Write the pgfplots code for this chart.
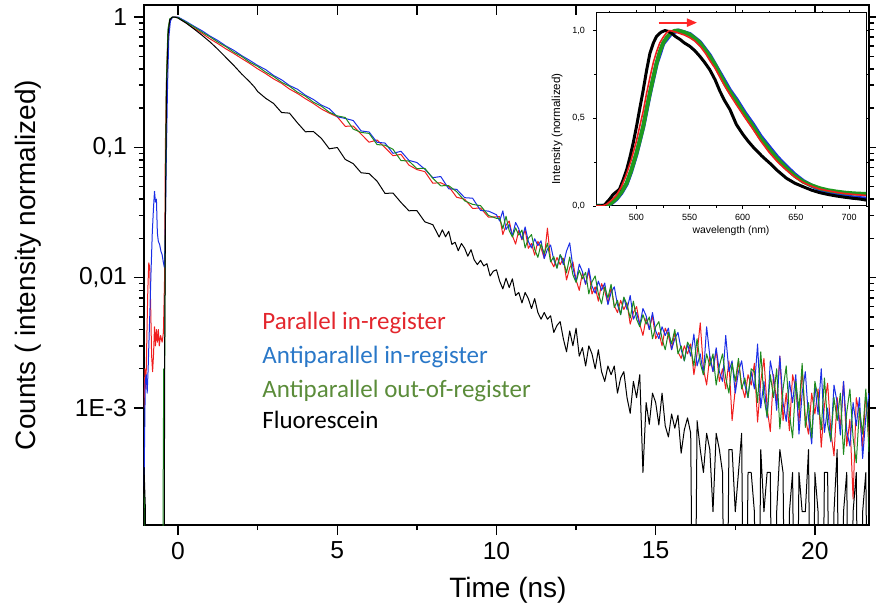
\documentclass[border=0pt]{standalone}
\usepackage{fontspec}
\setmainfont{Liberation Sans}
\newfontfamily\calibri{Carlito}
\usepackage{pgfplots}
\pgfplotsset{compat=1.18}
\usetikzlibrary{arrows.meta}
\definecolor{cred}{HTML}{F01E1E}
\definecolor{cblue}{HTML}{1A2EE6}
\definecolor{cgreen}{HTML}{1E8A1E}
\definecolor{lred}{HTML}{E3262D}
\definecolor{lblue}{HTML}{2A78C8}
\definecolor{lgreen}{HTML}{5B8C3A}
\definecolor{igreen}{HTML}{1E9A1E}
\begin{document}
\begin{tikzpicture}
% main decay plot
\begin{axis}[
  at={(0,0)}, anchor=south west,
  scale only axis, width=362.5pt, height=260pt,
  ymode=log, xmin=-1.07, xmax=21.7, ymin=1.265e-4, ymax=1.236,
  xtick={0,5,10,15,20}, xticklabels={0,5,10,15,20},
  minor xtick={2.5,7.5,12.5,17.5},
  ytick={1e-3,1e-2,1e-1,1}, yticklabels={1E-3,{0,01},{0,1},1},
  tick align=outside, xtick pos=left,
  major tick length=5pt, minor tick length=2.5pt,
  axis line style={line width=0.9pt},
  every tick/.append style={line width=0.7pt, black},
  tick label style={font=\fontsize{12.3}{14}\selectfont},
  xlabel={Time (ns)}, ylabel={Counts ( intensity normalized)},
  every axis x label/.style={at={(axis description cs:0.502,-0.125)}, anchor=center, font=\fontsize{14}{16}\selectfont},
  every axis y label/.style={at={(axis description cs:-0.16,0.5)}, rotate=90, anchor=center, font=\fontsize{14}{16}\selectfont},
  every axis plot/.append style={line width=0.5pt, line join=round},
]
% Parallel in-register
\addplot[cred] coordinates {
(-1.07,1.0e-3) (-1.04,2.0e-3) (-1.01,1.4e-3) (-0.98,3.5e-3) (-0.95,8e-3) (-0.92,1.3e-2) (-0.89,1.2e-2) (-0.86,6e-3) (-0.83,2.5e-3) (-0.8,1.9e-3) (-0.77,2.6e-3) (-0.74,4.2e-3) (-0.71,3.0e-3) (-0.68,4.0e-3) (-0.65,3.2e-3) (-0.62,4.0e-3) (-0.59,3.0e-3) (-0.55,3.6e-3) (-0.5,3.2e-3) (-0.46,3.8e-3) (-0.42,0.011) (-0.4,0.1) (-0.36,0.35) (-0.32,0.7) (-0.27,0.92) (-0.2,0.99) (-0.12,1.0) (-0.05,1.0)
(0,0.99) (0.25,0.90) (0.5,0.82) (0.75,0.75) (1.0,0.68) (1.25,0.625) (1.5,0.57) (1.75,0.525) (2.0,0.48) (2.25,0.44) (2.5,0.40) (2.75,0.368) (3.0,0.335) (3.25,0.31) (3.5,0.28) (3.75,0.259) (4.0,0.236) (4.25,0.217) (4.5,0.197) (4.75,0.183)
(5.0,0.1715) (5.25,0.145) (5.5,0.1456) (5.75,0.1262) (6.0,0.1095) (6.25,0.1138) (6.5,0.0994) (6.75,0.0862) (7.0,0.0883) (7.25,0.0731) (7.5,0.0675) (7.75,0.0651) (8.0,0.0531) (8.25,0.0535) (8.5,0.050) (8.75,0.0414) (9.0,0.040) (9.25,0.034) (9.5,0.0342) (9.75,0.0291) (10.0,0.0293)
(10.1,0.0294) (10.2,0.0214) (10.3,0.0253) (10.4,0.0272) (10.5,0.0210) (10.6,0.0181) (10.7,0.0230) (10.8,0.0195) (10.9,0.0233) (11.0,0.0168) (11.1,0.0183) (11.2,0.0149) (11.3,0.0190) (11.4,0.0169) (11.5,0.0141) (11.6,0.0240) (11.7,0.0136) (11.8,0.0121) (11.9,0.0143) (12.0,0.0126)
(12.1,0.0141) (12.2,0.0096) (12.3,0.0119) (12.4,0.0132) (12.5,0.0096) (12.6,0.0080) (12.7,0.0109) (12.8,0.0089) (12.9,0.0113) (13.0,0.0075) (13.1,0.0085) (13.2,0.0066) (13.3,0.0090) (13.4,0.0079) (13.5,0.0063) (13.6,0.0084) (13.7,0.0061) (13.8,0.0054) (13.9,0.0067) (14.0,0.0057)
(14.1,0.0064) (14.2,0.0044) (14.3,0.0054) (14.4,0.0060) (14.5,0.0044) (14.6,0.0036) (14.7,0.0049) (14.8,0.0040) (14.9,0.0051) (15.0,0.0034) (15.1,0.0038) (15.2,0.0030) (15.3,0.0041) (15.4,0.0036) (15.5,0.0028) (15.6,0.0038) (15.7,0.0027) (15.8,0.0024) (15.9,0.0030) (16.0,0.0026)
(16.1,0.0031) (16.2,0.0018) (16.3,0.0026) (16.4,0.0045) (16.5,0.0020) (16.6,0.0015) (16.7,0.0025) (16.8,0.0019) (16.9,0.0028) (17.0,0.0016) (17.1,0.0020) (17.2,0.0014) (17.3,0.0023) (17.4,0.0008) (17.5,0.0014) (17.6,0.0023) (17.7,0.0015) (17.8,0.0012) (17.9,0.0018) (18.0,0.0015)
(18.1,0.0022) (18.2,0.00078) (18.3,0.0016) (18.4,0.0024) (18.5,0.0010) (18.6,0.00066) (18.7,0.0018) (18.8,0.0011) (18.9,0.0025) (19.0,0.0008) (19.1,0.0013) (19.2,0.00067) (19.3,0.0018) (19.4,0.0014) (19.5,0.00077) (19.6,0.0020) (19.7,0.00084) (19.8,0.00063) (19.9,0.0013) (20.0,0.0009)
(20.1,0.0014) (20.2,0.0005) (20.3,0.00105) (20.4,0.00155) (20.5,0.00066) (20.6,0.00043) (20.7,0.0012) (20.8,0.0007) (20.9,0.0016) (21.0,0.00051) (21.1,0.00082) (21.2,0.0002) (21.3,0.0012) (21.4,0.00089) (21.5,0.0005) (21.6,0.0013) (21.7,0.00054)
};
% Antiparallel in-register
\addplot[cblue] coordinates {
(-1.07,2.5e-4) (-1.05,6e-4) (-1.03,1.6e-3) (-1.0,1.8e-3) (-0.97,1.3e-3) (-0.94,2e-3) (-0.91,3.5e-3) (-0.88,6e-3) (-0.85,1.1e-2) (-0.81,2.2e-2) (-0.77,3.5e-2) (-0.74,4.6e-2) (-0.71,3.8e-2) (-0.68,4.0e-2) (-0.65,2.2e-2) (-0.62,1.9e-2) (-0.58,1.8e-2) (-0.54,1.6e-2) (-0.5,1.5e-2) (-0.46,1.3e-2) (-0.43,1.2e-2) (-0.4,2.5e-2) (-0.37,0.08) (-0.33,0.3) (-0.29,0.7) (-0.24,0.93) (-0.17,1.0) (-0.08,1.0)
(0,1.0) (0.25,0.925) (0.5,0.85) (0.75,0.785) (1.0,0.715) (1.25,0.66) (1.5,0.60) (1.75,0.555) (2.0,0.505) (2.25,0.465) (2.5,0.425) (2.75,0.395) (3.0,0.356) (3.25,0.33) (3.5,0.298) (3.75,0.279) (4.0,0.251) (4.25,0.233) (4.5,0.211) (4.75,0.198)
(5.0,0.1716) (5.25,0.1666) (5.5,0.1606) (5.75,0.1336) (6.0,0.1311) (6.25,0.1092) (6.5,0.1079) (6.75,0.0899) (7.0,0.0933) (7.25,0.0794) (7.5,0.0765) (7.75,0.0679) (8.0,0.0585) (8.25,0.0597) (8.5,0.0481) (8.75,0.0476) (9.0,0.0411) (9.25,0.0407) (9.5,0.0328) (9.75,0.0324) (10.0,0.0304)
(10.1,0.0272) (10.2,0.0326) (10.3,0.0234) (10.4,0.0256) (10.5,0.0209) (10.6,0.0265) (10.7,0.0237) (10.8,0.0197) (10.9,0.0245) (11.0,0.0190) (11.1,0.0169) (11.2,0.0199) (11.3,0.0176) (11.4,0.0192) (11.5,0.0140) (11.6,0.0165) (11.7,0.0178) (11.8,0.0137) (11.9,0.0119) (12.0,0.0150)
(12.1,0.0126) (12.2,0.0160) (12.3,0.0185) (12.4,0.0120) (12.5,0.0093) (12.6,0.0127) (12.7,0.0111) (12.8,0.0089) (12.9,0.0118) (13.0,0.0086) (13.1,0.0076) (13.2,0.0094) (13.3,0.0080) (13.4,0.0091) (13.5,0.0062) (13.6,0.0077) (13.7,0.0085) (13.8,0.0062) (13.9,0.0052) (14.0,0.0070)
(14.1,0.0057) (14.2,0.0073) (14.3,0.0048) (14.4,0.0054) (14.5,0.0043) (14.6,0.0058) (14.7,0.0051) (14.8,0.0040) (14.9,0.0054) (15.0,0.0039) (15.1,0.0034) (15.2,0.0042) (15.3,0.0036) (15.4,0.0041) (15.5,0.0028) (15.6,0.0034) (15.7,0.0038) (15.8,0.0028) (15.9,0.0023) (16.0,0.0031)
(16.1,0.0025) (16.2,0.0037) (16.3,0.0021) (16.4,0.0026) (16.5,0.0018) (16.6,0.0042) (16.7,0.0025) (16.8,0.0019) (16.9,0.0029) (17.0,0.0019) (17.1,0.0016) (17.2,0.0036) (17.3,0.0019) (17.4,0.0023) (17.5,0.0013) (17.6,0.0019) (17.7,0.0023) (17.8,0.0015) (17.9,0.0012) (18.0,0.0019)
(18.1,0.0014) (18.2,0.0031) (18.3,0.0010) (18.4,0.0016) (18.5,0.00084) (18.6,0.0023) (18.7,0.0017) (18.8,0.00096) (18.9,0.0025) (19.0,0.0011) (19.1,0.00079) (19.2,0.0016) (19.3,0.0011) (19.4,0.0018) (19.5,0.00063) (19.6,0.0013) (19.7,0.0019) (19.8,0.00083) (19.9,0.00053) (20.0,0.0015)
(20.1,0.00089) (20.2,0.0020) (20.3,0.00065) (20.4,0.0010) (20.5,0.00055) (20.6,0.0015) (20.7,0.0011) (20.8,0.00062) (20.9,0.0016) (21.0,0.00067) (21.1,0.00051) (21.2,0.0011) (21.3,0.00073) (21.4,0.0012) (21.5,0.00041) (21.6,0.00085) (21.7,0.0013)
};
% Antiparallel out-of-register
\addplot[cgreen] coordinates {
(-1.07,2.2e-4) (-1.04,1.6e-4) (-1.02,1e-6) (-0.5,1e-6) (-0.47,2e-4) (-0.45,2e-3) (-0.42,2e-3) (-0.4,0.03) (-0.37,0.3) (-0.32,0.8) (-0.26,0.97) (-0.16,1.0)
(0,0.99) (0.25,0.912) (0.5,0.84) (0.75,0.766) (1.0,0.705) (1.25,0.642) (1.5,0.593) (1.75,0.537) (2.0,0.498) (2.25,0.45) (2.5,0.418) (2.75,0.378) (3.0,0.35) (3.25,0.316) (3.5,0.294) (3.75,0.265) (4.0,0.247) (4.25,0.222) (4.5,0.207) (4.75,0.186)
(5.0,0.1744) (5.25,0.1694) (5.5,0.1381) (5.75,0.1302) (6.0,0.1279) (6.25,0.105) (6.5,0.1038) (6.75,0.0966) (7.0,0.0792) (7.25,0.0785) (7.5,0.0687) (7.75,0.069) (8.0,0.0579) (8.25,0.0507) (8.5,0.0508) (8.75,0.0457) (9.0,0.0389) (9.25,0.0365) (9.5,0.0357) (9.75,0.030) (10.0,0.0285)
(10.1,0.0286) (10.2,0.0238) (10.3,0.0296) (10.4,0.0229) (10.5,0.0205) (10.6,0.0241) (10.7,0.0212) (10.8,0.0232) (10.9,0.0169) (11.0,0.0200) (11.1,0.0214) (11.2,0.0165) (11.3,0.0143) (11.4,0.0181) (11.5,0.0153) (11.6,0.0184) (11.7,0.0132) (11.8,0.0145) (11.9,0.0118) (12.0,0.0150)
(12.1,0.0136) (12.2,0.0109) (12.3,0.0144) (12.4,0.0105) (12.5,0.0092) (12.6,0.0114) (12.7,0.0098) (12.8,0.0110) (12.9,0.0075) (13.0,0.0093) (13.1,0.0103) (13.2,0.0075) (13.3,0.0063) (13.4,0.0085) (13.5,0.0070) (13.6,0.0089) (13.7,0.0059) (13.8,0.0067) (13.9,0.0052) (14.0,0.0071)
(14.1,0.0062) (14.2,0.0049) (14.3,0.0066) (14.4,0.0048) (14.5,0.0042) (14.6,0.0052) (14.7,0.0044) (14.8,0.0050) (14.9,0.0034) (15.0,0.0042) (15.1,0.0046) (15.2,0.0034) (15.3,0.0028) (15.4,0.0038) (15.5,0.0031) (15.6,0.0040) (15.7,0.0026) (15.8,0.0030) (15.9,0.0023) (16.0,0.0032)
(16.1,0.0029) (16.2,0.0021) (16.3,0.0034) (16.4,0.0022) (16.5,0.0018) (16.6,0.0026) (16.7,0.0021) (16.8,0.0026) (16.9,0.0015) (17.0,0.0021) (17.1,0.0026) (17.2,0.0017) (17.3,0.0013) (17.4,0.0022) (17.5,0.0016) (17.6,0.0024) (17.7,0.0014) (17.8,0.0017) (17.9,0.0012) (18.0,0.0020)
(18.1,0.0019) (18.2,0.0011) (18.3,0.0027) (18.4,0.0012) (18.5,0.00086) (18.6,0.0018) (18.7,0.0012) (18.8,0.0020) (18.9,0.00069) (19.0,0.0014) (19.1,0.0021) (19.2,0.0009) (19.3,0.00059) (19.4,0.0016) (19.5,0.00097) (19.6,0.0022) (19.7,0.00071) (19.8,0.0011) (19.9,0.00059) (20.0,0.0016)
(20.1,0.0012) (20.2,0.00068) (20.3,0.0017) (20.4,0.00075) (20.5,0.00056) (20.6,0.0012) (20.7,0.0008) (20.8,0.0013) (20.9,0.00044) (21.0,0.00092) (21.1,0.0014) (21.2,0.00059) (21.3,0.00038) (21.4,0.0010) (21.5,0.00063) (21.6,0.0014) (21.7,0.00046)
};
% Fluorescein
\addplot[black] coordinates {
(-1.07,3.5e-4) (-1.05,2.5e-4) (-1.03,1.8e-4) (-1.01,1e-6) (-0.45,1e-6) (-0.42,3e-3) (-0.39,0.05) (-0.36,0.3) (-0.31,0.75) (-0.26,0.95) (-0.18,1.0) (-0.1,1.0)
(0,0.98) (0.25,0.90) (0.5,0.81) (0.75,0.725) (1.0,0.645) (1.25,0.565) (1.5,0.49) (1.75,0.425) (2.0,0.365) (2.25,0.318) (2.4,0.29) (2.5,0.268) (2.75,0.238)
(3.0,0.217) (3.25,0.185) (3.5,0.183) (3.75,0.154) (4.0,0.1316) (4.25,0.1323) (4.5,0.1172) (4.75,0.0974) (5.0,0.0997) (5.25,0.0808) (5.5,0.075) (5.75,0.0638) (6.0,0.0629) (6.25,0.055) (6.5,0.0443) (6.75,0.0446) (7.0,0.0378) (7.25,0.0326) (7.5,0.0327) (7.75,0.0268) (8.0,0.0255)
(8.1,0.0229) (8.2,0.0205) (8.3,0.0233) (8.4,0.0206) (8.5,0.0227) (8.6,0.0180) (8.7,0.0187) (8.8,0.0161) (8.9,0.0183) (9.0,0.0168) (9.1,0.0146) (9.2,0.0164) (9.3,0.0137) (9.4,0.0126) (9.5,0.0136) (9.6,0.0123) (9.7,0.0128) (9.8,0.0103) (9.9,0.0112) (10.0,0.0115)
(10.1,0.0094) (10.2,0.0082) (10.3,0.0099) (10.4,0.0084) (10.5,0.0098) (10.6,0.0073) (10.7,0.0077) (10.8,0.0064) (10.9,0.0077) (11.0,0.0069) (11.1,0.0058) (11.2,0.0069) (11.3,0.0054) (11.4,0.0048) (11.5,0.0054) (11.6,0.0048) (11.7,0.0051) (11.8,0.0038) (11.9,0.0043) (12.0,0.0046)
(12.1,0.0034) (12.2,0.0027) (12.3,0.0039) (12.4,0.0030) (12.5,0.0041) (12.6,0.0025) (12.7,0.0029) (12.8,0.0021) (12.9,0.0030) (13.0,0.0026) (13.1,0.0020) (13.2,0.0028) (13.3,0.0019) (13.4,0.0016) (13.5,0.0021) (13.6,0.0018) (13.7,0.0021) (13.8,0.0013) (13.9,0.0017) (14.0,0.0019)
(14.1,0.0012) (14.2,0.00091) (14.3,0.0016) (14.4,0.0012) (14.5,0.0018) (14.6,0.00032) (14.7,0.0011) (14.8,0.00075) (14.9,0.0013) (15.0,0.0011) (15.1,0.00074) (15.2,0.0013) (15.3,0.00073) (15.4,0.0006) (15.5,0.0009) (15.6,0.0007) (15.7,0.00088) (15.8,0.00045) (15.9,0.00068) (16.0,0.00084)
(16.1,0.00064) (16.2,1e-6) (16.3,0.00080) (16.4,0.00048) (16.5,0.00032) (16.6,0.00064) (16.7,0.00048) (16.8,0.00016) (16.9,0.00064) (17.0,0.00048) (17.1,0.00032) (17.2,1e-6) (17.3,0.00048) (17.4,0.00048) (17.5,0.00016) (17.6,0.00032) (17.7,0.00064) (17.8,1e-6) (17.9,0.00032) (18.0,0.00032)
(18.1,0.00016) (18.2,1e-6) (18.3,0.00048) (18.4,0.00016) (18.5,0.00032) (18.6,0.00032) (18.7,1e-6) (18.8,0.00016) (18.9,0.00048) (19.0,0.00032) (19.1,1e-6) (19.2,0.00016) (19.3,0.00032) (19.4,1e-6) (19.5,0.00032) (19.6,0.00016) (19.7,0.00016) (19.8,0.00048) (19.9,1e-6) (20.0,0.00032)
(20.1,0.00016) (20.2,1e-6) (20.3,0.00032) (20.4,0.00032) (20.5,1e-6) (20.6,0.00016) (20.7,0.00048) (20.8,1e-6) (20.9,0.00016) (21.0,0.00032) (21.1,1e-6) (21.2,0.00016) (21.3,0.00032) (21.4,1e-6) (21.5,0.00016) (21.6,0.00032) (21.7,1e-6)
};
\end{axis}
% top ticks pointing inwards
\begin{axis}[
  at={(0,0)}, anchor=south west,
  scale only axis, width=362.5pt, height=260pt,
  xmin=-1.07, xmax=21.7, ymin=0, ymax=1,
  axis x line*=top, axis y line=none,
  xtick={0,5,10,15,20}, minor xtick={2.5,7.5,12.5,17.5}, xticklabels={},
  tick align=inside, major tick length=5pt, minor tick length=5pt,
  axis line style={draw=none},
  every tick/.append style={line width=0.7pt, black},
]
\addplot[draw=none] coordinates {(0,0.5)};
\end{axis}
% legend text
\begin{scope}[every node/.style={anchor=base west, inner sep=0pt, font=\calibri\fontsize{12.5}{14}\selectfont}]
\node[text=lred] at (59pt,98pt) {Parallel in-register};
\node[text=lblue] at (59pt,81pt) {Antiparallel in-register};
\node[text=lgreen] at (59pt,64pt) {Antiparallel out-of-register};
\node[text=black] at (59pt,48.5pt) {Fluorescein};
\end{scope}
% inset: emission spectra
\begin{axis}[
  at={(226pt,159.5pt)}, anchor=south west,
  scale only axis, width=135pt, height=96.5pt,
  axis background/.style={fill=white},
  xmin=462, xmax=716, ymin=0, ymax=1.1,
  xtick={500,550,600,650,700}, minor xtick={475,525,575,625,675},
  ytick={0,0.5,1}, yticklabels={{0,0},{0,5},{1,0}}, minor ytick={0.25,0.75},
  xticklabels={500,550,600,650,700},
  tick align=outside, major tick length=1.5pt, minor tick length=1pt,
  axis line style={line width=0.5pt},
  every tick/.append style={line width=0.4pt, black},
  tick label style={font=\fontsize{4.5}{5}\selectfont},
  xticklabel style={yshift=1pt}, yticklabel style={xshift=-0.5pt},
  xlabel={wavelength (nm)}, ylabel={Intensity (normalized)},
  every axis x label/.style={at={(axis description cs:0.5,0)}, anchor=center, yshift=-12.5pt, font=\fontsize{5.2}{6}\selectfont},
  every axis y label/.style={at={(axis description cs:-0.144,0.4)}, rotate=90, anchor=center, font=\fontsize{5.8}{6}\selectfont},
  every axis plot/.append style={line join=round},
]
\addplot[cblue, line width=2pt] coordinates {
(462,0) (470,0) (473,0.004) (477,0.018) (481.4,0.04) (486,0.075) (490.8,0.125) (495,0.195) (500,0.295) (506.4,0.45) (512.7,0.64) (519,0.81) (525.2,0.925) (533,0.985) (539.3,1.0) (550.3,0.98) (559.7,0.935) (569,0.86) (578.5,0.76) (588,0.66) (594.2,0.607) (602,0.532) (609.8,0.465) (617,0.397) (625.5,0.332) (633,0.276) (641.2,0.225) (649,0.18) (656.8,0.143) (665,0.115) (672.5,0.094) (680,0.079) (688.2,0.066) (696,0.056) (703.8,0.049) (710,0.045) (716,0.042)
};
\addplot[igreen, line width=2pt] coordinates {
(462,0) (470,0) (473,0.005) (477,0.02) (481.4,0.044) (486,0.08) (490.8,0.13) (495,0.2) (500,0.3) (503,0.37) (506.4,0.453) (509.5,0.55) (512.7,0.644) (516,0.735) (519,0.815) (522,0.88) (525.2,0.93) (529,0.965) (533,0.99) (536,0.998) (539.3,1.0) (545,0.99) (550.3,0.977) (555,0.955) (559.7,0.93) (564,0.895) (569,0.853) (574,0.805) (578.5,0.752) (583,0.7) (588,0.65) (594.2,0.596) (602,0.52) (609.8,0.453) (617,0.385) (625.5,0.32) (633,0.265) (641.2,0.215) (649,0.172) (656.8,0.139) (665,0.117) (672.5,0.101) (680,0.09) (688.2,0.082) (696,0.076) (703.8,0.072) (710,0.07) (716,0.069)
};
\addplot[black, line width=1.5pt] coordinates {
(462,0) (466,0) (470,0.005) (472,0.02) (475,0.04) (478,0.065) (481,0.08) (484,0.095) (487.6,0.15) (491,0.21) (494,0.28) (497,0.36) (500,0.45) (503,0.55) (506.4,0.66) (509.5,0.77) (512.7,0.87) (516,0.93) (519,0.967) (523,0.99) (526.8,1.0) (530,0.995) (533,0.985) (537,0.965) (540.9,0.95) (545,0.93) (550.3,0.91) (555,0.885) (559.7,0.853) (564,0.82) (569,0.777) (574,0.72) (578.5,0.655) (583,0.6) (588,0.55) (594,0.465) (600,0.41) (605,0.37) (610,0.335) (618,0.285) (625.5,0.244) (633,0.2) (641.2,0.158) (649,0.13) (656.8,0.11) (665,0.09) (672.5,0.076) (680,0.066) (688.2,0.057) (696,0.05) (703.8,0.044) (710,0.04) (716,0.034)
};
\addplot[cred, line width=0.8pt] coordinates {
(462,0) (468,0) (472,0.01) (476,0.03) (481,0.06) (485.5,0.105) (490,0.17) (495,0.26) (500,0.37) (503,0.45) (506.4,0.54) (509.5,0.64) (513,0.74) (516,0.82) (519,0.88) (522,0.93) (525,0.96) (528,0.985) (531,1.0) (535,0.995) (540,0.985) (545,0.975) (550,0.96) (555,0.94) (560,0.91) (565,0.87) (569,0.83) (574,0.785) (578.5,0.735) (583,0.685) (588,0.635) (594,0.578) (602,0.505) (610,0.435) (617,0.37) (625,0.305) (633,0.25) (641,0.205) (649,0.165) (657,0.133) (665,0.112) (672,0.097) (680,0.087) (688,0.078) (696,0.071) (704,0.066) (710,0.063) (716,0.06)
};
\draw[-{Triangle[length=5pt,width=4pt]}, red!85!white, line width=1pt] (axis cs:521,1.045) -- (axis cs:557,1.045);
\end{axis}
\pgfresetboundingbox
\path[use as bounding box] (-72pt,-43pt) rectangle (366pt,262.5pt);
\end{tikzpicture}
\end{document}
